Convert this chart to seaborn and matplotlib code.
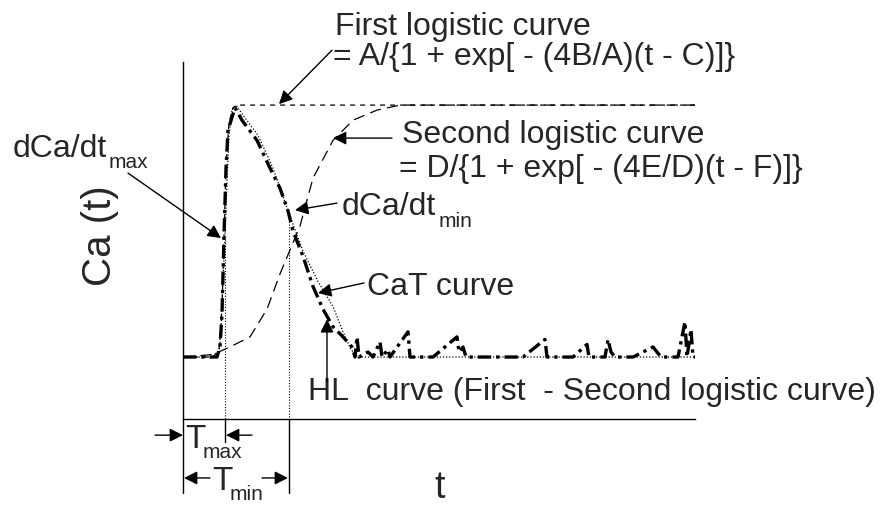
import matplotlib
matplotlib.use("Agg")
import matplotlib.pyplot as plt
import seaborn as sns

# time in ms after the start of the trace, Ca normalised to the plateau (A = D = 1)
cat_t = [0, 19, 34, 37, 39, 41, 43, 45, 52, 59, 74, 87, 97, 105, 110, 120, 130, 140, 150,
         160, 169, 172, 174, 176, 185, 190, 197, 199, 205, 207, 225, 227, 250, 274, 276, 280,
         283, 300, 340, 362, 364, 390, 404, 406, 422, 425, 428, 432, 450, 470, 474, 478, 495,
         502, 504, 508, 510, 512]
cat_ca = [0.0, 0.0, 0.0, 0.04, 0.17, 0.48, 0.75, 0.90, 0.99, 0.94, 0.86, 0.75, 0.67, 0.58,
          0.50, 0.40, 0.28, 0.19, 0.12, 0.08, 0.04, 0.0, 0.08, 0.0, 0.02, 0.0, 0.06, 0.0, 0.03,
          0.0, 0.10, 0.0, 0.0, 0.08, 0.02, 0.04, 0.0, 0.0, 0.0, 0.07, 0.0, 0.0, 0.05, 0.0, 0.0,
          0.07, 0.02, 0.0, 0.0, 0.04, 0.02, 0.0, 0.0, 0.14, 0.0, 0.11, 0.0, 0.0]

hl_t = [0, 30, 36, 38, 40, 42, 44, 46, 49, 53, 60, 75, 90, 106, 120, 135, 150, 160, 168, 175, 512]
hl_ca = [0.0, 0.0, 0.02, 0.10, 0.30, 0.48, 0.70, 0.88, 0.98, 1.0, 0.96, 0.88, 0.75, 0.57,
         0.42, 0.30, 0.20, 0.10, 0.03, 0.0, 0.0]

first_t = [0, 30, 36, 39, 41, 43, 46, 50, 55, 512]
first_ca = [0.0, 0.0, 0.03, 0.20, 0.48, 0.76, 0.93, 0.99, 1.0, 1.0]

second_t = [0, 30, 47, 67, 84, 97, 117, 130, 150, 170, 194, 217, 512]
second_ca = [0.0, 0.01, 0.04, 0.08, 0.19, 0.33, 0.52, 0.71, 0.86, 0.94, 0.98, 1.0, 1.0]

t_max, dmax_ca = 42, 0.476
t_min, dmin_ca = 106, 0.571

sns.set_style("white")
plt.rcParams["font.family"] = ["Liberation Sans", "DejaVu Sans"]

fig = plt.figure(figsize=(8.85, 5.08), dpi=100)
ax = fig.add_axes([183 / 885, 89 / 508, 512 / 885, 357 / 508])
ax.set_xlim(0, 512)
ax.set_ylim(-0.246, 1.171)

# curves
sns.lineplot(x=first_t, y=first_ca, ax=ax, color="k", lw=0.9, linestyle=(0, (4, 4)))
sns.lineplot(x=second_t, y=second_ca, ax=ax, color="k", lw=0.9, linestyle=(0, (9, 5)))
sns.lineplot(x=hl_t, y=hl_ca, ax=ax, color="k", lw=0.9, linestyle=(0, (1, 1.5)))
sns.lineplot(x=cat_t, y=cat_ca, ax=ax, color="k", lw=2.4, linestyle=(0, (4, 1.5, 1, 1.5)))

# Tmax / Tmin markers
bottom = ax.get_ylim()[0]
ax.plot([t_max, t_max], [dmax_ca, bottom], color="k", lw=0.8, linestyle=(0, (1, 1.5)))
ax.plot([t_min, t_min], [dmin_ca, bottom], color="k", lw=0.8, linestyle=(0, (1, 1.5)))
ax.plot([t_max, t_max], [bottom, -0.337], color="k", lw=1, clip_on=False)
ax.plot([t_min, t_min], [bottom, -0.540], color="k", lw=1, clip_on=False)
ax.plot([0, 0], [bottom, -0.540], color="k", lw=1, clip_on=False)

for side in ["top", "right"]:
    ax.spines[side].set_visible(False)
for side in ["left", "bottom"]:
    ax.spines[side].set_color("k")
    ax.spines[side].set_linewidth(1)
ax.set_xticks([])
ax.set_yticks([])

arrow = dict(arrowstyle="-|>", color="k", lw=1, mutation_scale=20, shrinkA=0, shrinkB=0)
fs = 23
sub_fs = 15


def note(text_xy, tip_xy):
    ax.annotate("", xy=tip_xy, xytext=text_xy, arrowprops=arrow, annotation_clip=False)


def label(x, y, s, size=fs, **kw):
    ax.text(x, y, s, fontsize=size, clip_on=False, **kw)


label(152, 1.278, "First logistic curve")
label(150, 1.159, "= A/{1 + exp[ - (4B/A)(t - C)]}")
note((149, 1.218), (96, 1.004))

label(219, 0.849, "Second logistic curve")
label(216, 0.714, "= D/{1 + exp[ - (4E/D)(t - F)]}")
note((209, 0.869), (150, 0.869))

label(-170, 0.794, "dCa/dt")
label(-74, 0.752, "max", sub_fs)
note((-55, 0.730), (38, 0.472))

label(159, 0.563, "dCa/dt")
label(256, 0.516, "min", sub_fs)
note((154, 0.611), (112, 0.583))

label(184, 0.246, "CaT curve")
note((181, 0.294), (135, 0.254))

label(125, -0.171, "HL  curve (First  - Second logistic curve)")
note((144, -0.099), (144, 0.150))

label(-83, 0.480, "Ca (t)", 29, rotation=90, ha="center", va="center")
label(257, -0.56, "t", 27, ha="center")

label(2, -0.361, "T", 24)
label(20, -0.401, "max", sub_fs)
note((-28, -0.310), (0, -0.310))
note((69, -0.310), (43, -0.310))

label(29, -0.528, "T", 24)
label(47, -0.567, "min", sub_fs)
note((27, -0.480), (1, -0.480))
note((79, -0.480), (105, -0.480))

fig.savefig("out.png", dpi=100)
